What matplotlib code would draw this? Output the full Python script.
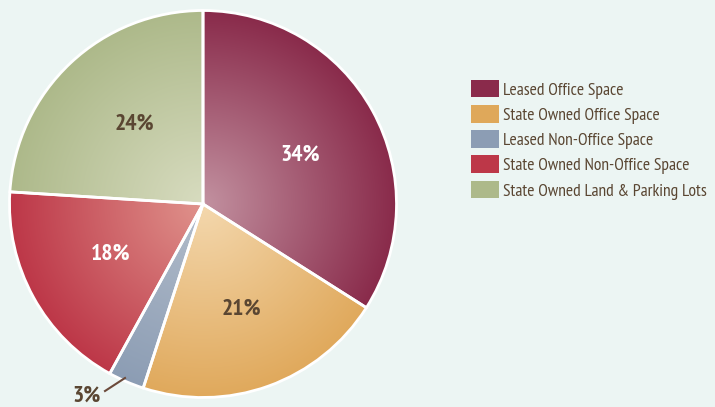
import numpy as np
import matplotlib
matplotlib.use('Agg')
from matplotlib import pyplot as plt
from matplotlib.patches import Rectangle

plt.rcParams['font.family'] = ['PT Sans Narrow', 'Asap Condensed', 'DejaVu Sans Condensed', 'DejaVu Sans']

categories = ['Leased Office Space', 'State Owned Office Space', 'Leased Non-Office Space',
              'State Owned Non-Office Space', 'State Owned Land & Parking Lots']
shares = [34, 21, 3, 18, 24]
pct_labels = ['34%', '21%', '3%', '18%', '24%']

edge_colors = ['#892a4a', '#e0a95c', '#8c9db4', '#bd3748', '#adb98a']
center_colors = ['#c291a0', '#f4d8ae', '#b3bdcb', '#e0938c', '#d8dcc0']
legend_colors = ['#8a2a4b', '#dfa85a', '#8c9db4', '#bd3748', '#adb98a']
label_colors = ['white', '#5a4632', '#5a4632', 'white', '#5a4632']

bg = '#ecf5f3'
text_col = '#5a4632'

fig = plt.figure(figsize=(7.15, 4.07), dpi=100, facecolor=bg)
ax = fig.add_axes([0, 0, 1, 1])
ax.set_facecolor(bg)

cx, cy, R = 203, 203, 193.5

wedges, _ = ax.pie(shares, startangle=90, counterclock=False, center=(cx, cy), radius=R,
                   frame=True, wedgeprops=dict(edgecolor='white', linewidth=2))

# radial gradient fill for each wedge
n = 400
xs = np.linspace(cx - R, cx + R, n)
ys = np.linspace(cy - R, cy + R, n)
X, Y = np.meshgrid(xs, ys)
t = np.clip(np.hypot(X - cx, Y - cy) / R, 0, 1)[..., None]
for w, c0, c1 in zip(wedges, center_colors, edge_colors):
    a = np.array(matplotlib.colors.to_rgb(c0))
    b = np.array(matplotlib.colors.to_rgb(c1))
    img = a * (1 - t) + b * t
    w.set_facecolor('none')
    im = ax.imshow(img, extent=(cx - R, cx + R, cy - R, cy + R), origin='lower',
                   interpolation='bilinear', zorder=0.5)
    im.set_clip_path(w)
    w.set_zorder(1)

# percentage labels
label_pos = [(300, 407 - 155), (241, 407 - 309), (87, 407 - 396), (111, 407 - 254), (134, 407 - 124)]
for txt, (x, y), c in zip(pct_labels, label_pos, label_colors):
    ax.text(x, y, txt, ha='center', va='center', fontsize=17, fontweight='bold', color=c, zorder=3)
ax.plot([105, 125], [407 - 391, 407 - 378], color='#6b4a3a', lw=1.5, zorder=3)

# legend
for i, (lab, col) in enumerate(zip(categories, legend_colors)):
    yc = 407 - (88.6 + i * 25.2)
    ax.add_patch(Rectangle((471, yc - 8.7), 28, 17.4, facecolor=col, edgecolor='none', zorder=3))
    ax.text(503, yc - 6.3, lab, ha='left', va='baseline', fontsize=12.6, color=text_col, zorder=3)

ax.set_xlim(0, 715)
ax.set_ylim(0, 407)
ax.set_aspect('equal')
ax.axis('off')

fig.savefig('out.png', dpi=100, facecolor=bg)
